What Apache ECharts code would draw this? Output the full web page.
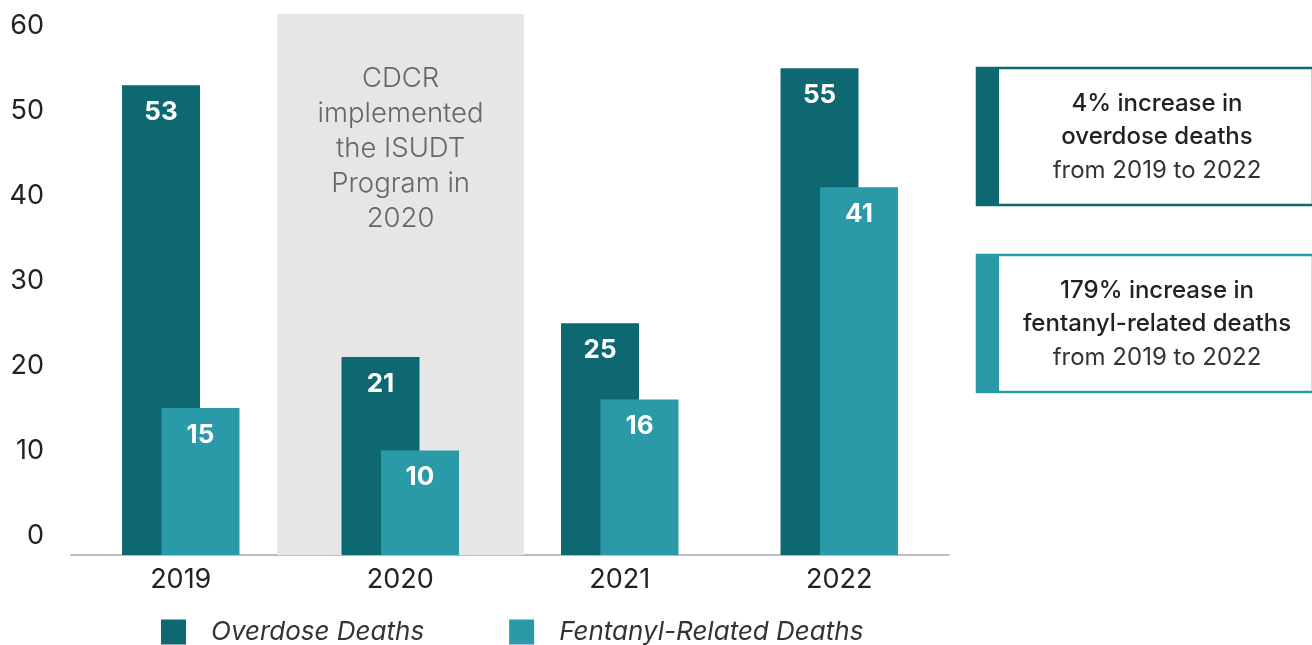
<!DOCTYPE html>
<html>
<head>
<meta charset="utf-8">
<script src="https://cdn.jsdelivr.net/npm/echarts@6/dist/echarts.min.js"></script>
<style>
  html, body { margin: 0; padding: 0; background: #fff; }
  #chart { width: 1312px; height: 645px; }
</style>
</head>
<body>
<div id="chart"></div>
<script>
// Annual deaths, CDCR
const years = ['2019', '2020', '2021', '2022'];
const overdoseDeaths = [53, 21, 25, 55];
const fentanylDeaths = [15, 10, 16, 41];
const yTickValues = [0, 10, 20, 30, 40, 50, 60];

const DARK = '#0e6872';
const LIGHT = '#2a9aa9';
const FONT = 'Inter, "Noto Sans", sans-serif';

const chart = echarts.init(document.getElementById('chart'));

const barLabel = {
  show: true,
  position: 'insideTop',
  distance: 14,
  color: '#ffffff',
  fontSize: 26,
  fontWeight: 'bold',
  fontFamily: FONT
};

function noteBox(y, color, lines) {
  return {
    type: 'group',
    children: [
      { type: 'rect', shape: { x: 977, y: y + 1, width: 336, height: 137 },
        style: { fill: '#fff', stroke: color, lineWidth: 2.5 } },
      { type: 'rect', shape: { x: 976, y: y, width: 23, height: 139 },
        style: { fill: color } },
      { type: 'text', x: 1157, y: y + 37, style: { text: lines[0], fill: '#222', font: '500 24px ' + FONT, align: 'center', verticalAlign: 'middle' } },
      { type: 'text', x: 1157, y: y + 70, style: { text: lines[1], fill: '#222', font: '500 24px ' + FONT, align: 'center', verticalAlign: 'middle' } },
      { type: 'text', x: 1157, y: y + 104, style: { text: lines[2], fill: '#333', font: '400 24px ' + FONT, align: 'center', verticalAlign: 'middle' } }
    ]
  };
}

chart.setOption({
  animation: false,
  backgroundColor: '#fff',
  textStyle: { fontFamily: FONT },
  grid: { left: 71, right: 363, top: 14, bottom: 90, containLabel: false },
  legend: {
    data: ['Overdose Deaths', 'Fentanyl-Related Deaths'],
    left: 161,
    top: 619,
    padding: 0,
    itemWidth: 25,
    itemHeight: 25,
    itemGap: 85,
    icon: 'rect',
    textStyle: { fontSize: 26, fontStyle: 'italic', color: '#333', fontFamily: FONT, padding: [0, 0, 0, 20] }
  },
  xAxis: [
    {
      type: 'category',
      data: years,
      axisLine: { show: true, onZero: false, lineStyle: { color: '#bdbdbd', width: 2 } },
      axisTick: { show: false },
      axisLabel: { fontSize: 27, color: '#222', margin: 11, fontFamily: FONT }
    },
    {
      type: 'value',
      min: 0,
      max: 4,
      show: false
    }
  ],
  yAxis: {
    type: 'value',
    min: -2.3,
    max: 61.4,
    startValue: -2.3,
    axisLine: { show: false },
    axisTick: { show: false },
    splitLine: { show: false },
    axisLabel: { customValues: yTickValues, fontSize: 27, color: '#222', margin: 27, fontFamily: FONT }
  },
  series: [
    {
      name: 'program',
      type: 'line',
      xAxisIndex: 1,
      data: [],
      z: 0,
      silent: true,
      markArea: {
        silent: true,
        itemStyle: { color: '#e6e6e6' },
        label: {
          show: true,
          position: 'insideTop',
          distance: 47,
          color: '#666',
          fontSize: 27.5,
          fontWeight: 300,
          lineHeight: 35,
          fontFamily: FONT,
          align: 'center'
        },
        data: [[
          { name: 'CDCR\nimplemented\nthe ISUDT\nProgram in\n2020', xAxis: 0.94, yAxis: -2.3 },
          { xAxis: 2.063, yAxis: 61.4 }
        ]]
      }
    },
    {
      name: 'Overdose Deaths',
      type: 'bar',
      data: overdoseDeaths,
      barWidth: 78,
      barGap: '-49.4%',
      itemStyle: { color: DARK },
      label: barLabel,
      z: 2
    },
    {
      name: 'Fentanyl-Related Deaths',
      type: 'bar',
      data: fentanylDeaths,
      barWidth: 78,
      itemStyle: { color: LIGHT },
      label: barLabel,
      z: 3
    }
  ],
  graphic: [
    noteBox(67, DARK, ['4% increase in', 'overdose deaths', 'from 2019 to 2022']),
    noteBox(254, LIGHT, ['179% increase in', 'fentanyl-related deaths', 'from 2019 to 2022'])
  ]
});
</script>
</body>
</html>
